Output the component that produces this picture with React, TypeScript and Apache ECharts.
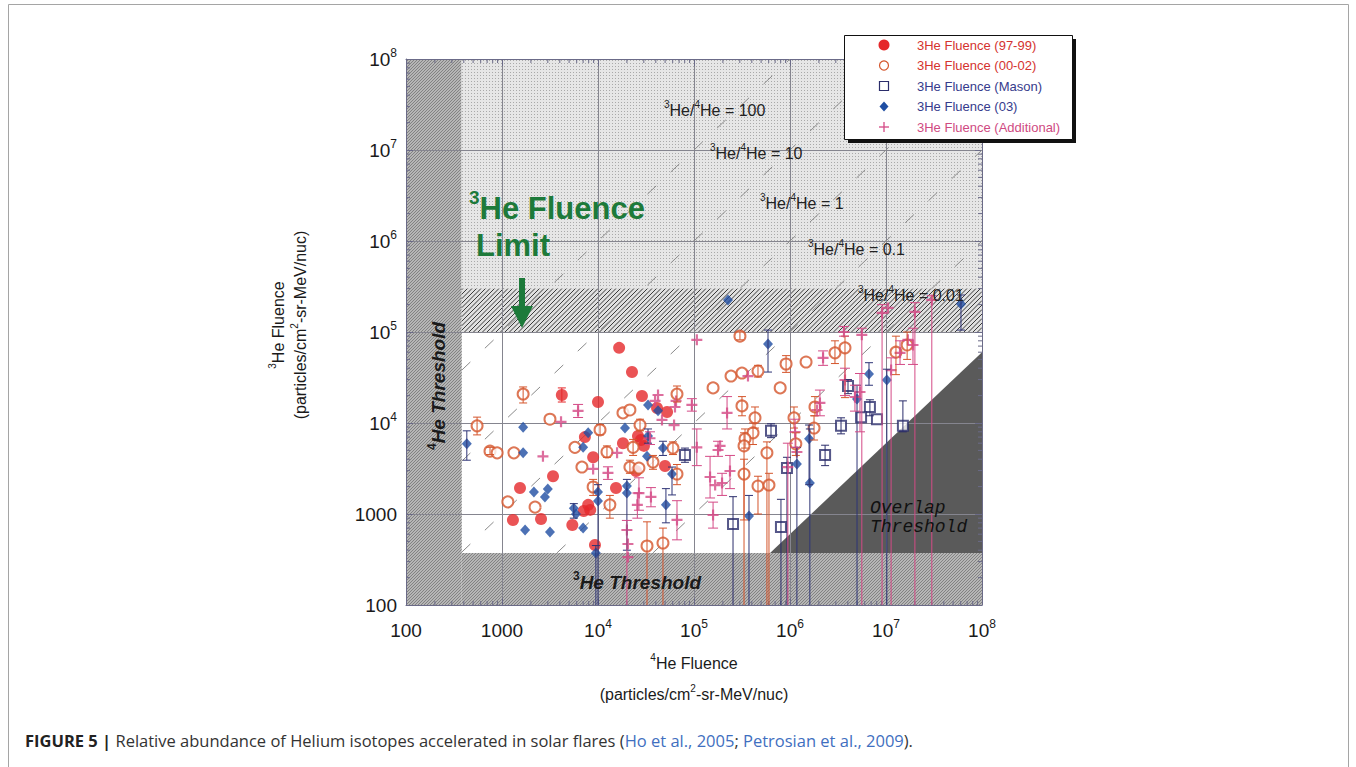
import React, { useEffect, useRef } from 'react';
import * as echarts from 'echarts';

const FONT = '"Liberation Sans", Arial, Helvetica, sans-serif';
const MONO = '"Liberation Mono", "DejaVu Sans Mono", monospace';
const CAPTION_FONT = '"Open Sans", "DejaVu Sans", sans-serif';

// [4He fluence, 3He fluence] — filled red circles
const fluence9799: number[][] = [
  [1.66e4, 6.7e4], [2.26e4, 3.63e4], [4.2e3, 2.03e4, 1.7e4, 2.43e4], [1.0e4, 1.7e4],
  [2.87e4, 1.98e4], [4.12e4, 1.46e4], [5.24e4, 1.32e4], [2.61e4, 7.2e3],
  [7.3e3, 7.0e3], [1.82e4, 6.0e3], [3.01e4, 5.6e3], [2.8e4, 6.5e3],
  [8.9e3, 4.2e3], [3.4e3, 2.6e3], [1.54e3, 1.93e3], [2.49e4, 2.97e3],
  [4.99e4, 3.37e3], [1.54e4, 1.93e3], [7.9e3, 1.26e3], [7.1e3, 1.08e3],
  [8.3e3, 1.11e3], [1.3e3, 860], [2.55e3, 880], [5.4e3, 757], [9.3e3, 456],
];

// [4He, 3He, 3He low, 3He high] — open circles
const fluence0002: number[][] = [
  [6.65e4, 2.08e4, 1.7e4, 2.55e4], [1.66e3, 2.08e4, 1.66e4, 2.49e4], [550, 9.3e3, 7.4e3, 1.16e4],
  [750, 4.9e3, 4.5e3, 5.4e3], [890, 4.7e3], [1.33e3, 4.7e3], [3.16e3, 1.1e4],
  [1.05e4, 8.4e3, 7.4e3, 9.6e3], [1.82e4, 1.29e4], [2.15e4, 1.39e4], [1.24e4, 4.8e3, 4.2e3, 5.6e3],
  [5.75e3, 5.4e3], [6.8e3, 3.28e3], [2.32e4, 5.4e3, 4.4e3, 6.6e3], [2.74e4, 9.5e3, 8.2e3, 1.1e4],
  [2.15e4, 3.28e3, 2.8e3, 3.9e3], [2.67e4, 3.2e3], [3.74e4, 3.72e3, 3.1e3, 4.4e3],
  [6.04e4, 5.3e3, 4.5e3, 6.2e3], [6.65e4, 2.75e3, 2.1e3, 3.5e3], [1.15e3, 1.36e3], [2.21e3, 1.19e3],
  [8.9e3, 1.98e3, 1.6e3, 2.4e3], [1.33e4, 1.26e3, 900, 1.6e3], [3.24e4, 445, 100, 820],
  [4.75e4, 480, 100, 700], [3.01e5, 9.0e4, 8.2e4, 1.0e5], [2.43e5, 3.28e4], [3.16e5, 3.54e4],
  [4.64e5, 3.72e4, 3.2e4, 4.3e4], [9.1e5, 4.45e4, 3.6e4, 5.5e4], [1.47e6, 4.68e4], [1.58e5, 2.43e4],
  [7.9e5, 2.43e4], [2.94e6, 5.9e4, 4.5e4, 8.0e4], [3.74e6, 6.7e4, 1.9e4, 9.0e4],
  [1.27e7, 6.0e4, 3.4e4, 9.0e4], [1.66e7, 7.2e4, 5.0e4, 1.0e5], [3.16e5, 1.54e4, 1.2e4, 1.95e4],
  [4.32e5, 1.14e4, 8.8e3, 1.5e4], [4.12e5, 7.8e3, 5.8e3, 1.0e4], [3.4e5, 6.7e3, 5.3e3, 8.6e3],
  [3.32e5, 5.6e3, 860, 7.8e3], [5.75e5, 4.7e3, 100, 6.2e3], [3.32e5, 2.75e3, 100, 4.0e3],
  [4.64e5, 2.03e3, 1.0e3, 2.6e3], [6.04e5, 2.08e3, 100, 2.8e3], [1.1e6, 1.14e4, 8.8e3, 1.5e4],
  [1.15e6, 5.9e3, 4.4e3, 7.8e3], [1.82e6, 1.5e4, 1.2e4, 1.95e4], [1.78e6, 8.8e3, 6.5e3, 1.2e4],
];

// open squares
const fluenceMason: number[][] = [
  [8.05e4, 4.45e3, 3.7e3, 5.3e3], [6.34e5, 8.2e3, 6.9e3, 9.8e3], [3.4e6, 9.3e3, 7.6e3, 1.14e4],
  [2.32e6, 4.45e3, 3.4e3, 5.7e3], [9.3e5, 3.2e3, 100, 4.2e3], [4.02e6, 2.55e4, 2.1e4, 3.0e4],
  [6.8e6, 1.5e4, 1.2e4, 1.8e4], [5.5e6, 1.16e4], [8.05e6, 1.1e4], [1.5e7, 9.3e3, 8.0e3, 1.75e4],
  [2.55e5, 776, 100, 1.55e3], [8.05e5, 720, 100, 1.45e3],
];

// filled diamonds
const fluence03: number[][] = [
  [3.32e4, 1.58e4], [4.22e4, 1.36e4], [7.9e3, 7.8e3], [1.91e4, 8.8e3],
  [3.32e4, 7.2e3, 6.0e3, 8.6e3], [7.0e3, 5.4e3], [4.75e4, 5.3e3, 4.4e3, 6.3e3], [3.24e4, 4.3e3],
  [1.66e3, 9.0e3], [1.66e3, 4.7e3], [430, 5.9e3, 3.9e3, 8.2e3], [5.9e4, 2.75e3, 1.62e3, 3.28e3],
  [2.15e3, 1.75e3], [3.0e3, 1.88e3], [2.8e3, 1.54e3], [1.0e4, 1.75e3, 100, 2.1e3],
  [1.0e4, 1.39e3], [2.0e4, 2.03e3, 400, 2.4e3], [2.0e4, 1.7e3], [5.6e3, 1.16e3, 900, 1.3e3],
  [5.9e3, 1.0e3], [1.74e3, 667], [3.16e3, 634], [7.0e3, 701], [9.5e3, 373, 100, 450],
  [5.1e4, 1.26e3, 800, 1.9e3], [5.9e5, 7.4e4, 3.63e4, 1.05e5], [6.65e6, 3.45e4, 2.6e4, 4.6e4],
  [1.02e7, 2.97e4, 100, 3.9e4], [4.99e6, 1.84e4, 100, 2.6e4], [1.58e6, 6.7e3, 2.1e3, 9.5e3],
  [1.18e6, 3.54e3, 100, 5.4e3], [1.61e6, 2.19e3, 100, 8.6e3], [3.74e5, 951, 100, 1.6e3],
  [2.26e5, 2.25e5], [6.04e7, 2.03e5, 1.05e5, 2.55e5],
];

// plus markers
const fluenceAdditional: number[][] = [
  [6.2e3, 1.36e4, 1.15e4, 1.6e4], [4.12e3, 1.03e4], [2.67e3, 4.3e3], [4.22e4, 2.03e4],
  [3.93e4, 1.75e4], [6.5e4, 1.75e4], [6.34e4, 1.5e4], [9.5e4, 1.58e4, 1.35e4, 1.85e4],
  [4.64e4, 1.08e4], [6.2e4, 9.5e3], [3.48e4, 6.8e3, 5.8e3, 8.0e3], [1.58e4, 4.7e3],
  [1.27e4, 2.83e3, 2.4e3, 3.3e3], [8.9e3, 3.13e3], [2.67e4, 1.7e3, 1.1e3, 2.5e3],
  [3.56e4, 1.54e3, 1.2e3, 1.95e3], [6.65e4, 860, 520, 1.4e3], [2.0e4, 667, 100, 850],
  [2.05e4, 468], [2.05e4, 336], [1.07e5, 8.2e4], [2.21e5, 1.29e4, 8.6e3, 1.95e4],
  [1.07e5, 5.4e3, 3.4e3, 8.6e3], [1.47e5, 2.55e3, 1.5e3, 4.3e3], [1.66e5, 2.08e3],
  [1.96e5, 2.19e3, 1.6e3, 2.8e3], [1.78e5, 5.05e3, 4.3e3, 6.3e3], [2.37e5, 2.97e3, 1.9e3, 4.4e3],
  [1.58e5, 975, 700, 1.35e3], [1.87e5, 5.6e3], [3.65e5, 3.28e4], [2.21e6, 5.2e4, 4.3e4, 6.2e4],
  [2.05e6, 1.66e4, 1.2e4, 2.3e4], [1.91e6, 1.39e4], [1.13e6, 7.96e3, 5.4e3, 1.1e4], [1.18e6, 4.8e3],
  [9.5e5, 3.28e3, 100, 6.0e3], [4.75e6, 1.93e4, 1.35e4, 2.6e4], [5.36e6, 2.19e4, 8.0e3, 3.5e4],
  [3.74e6, 2.97e4, 2.0e4, 4.0e4], [1.13e7, 3.82e4, 100, 5.2e4], [1.4e7, 5.9e4, 4.4e4, 8.0e4],
  [1.91e7, 7.2e4, 4.4e4, 1.1e5], [9.1e6, 1.62e5, 100, 2.0e5], [1.05e7, 1.84e5],
  [2.0e7, 1.66e5, 100, 2.1e5], [3.65e6, 1.0e5, 9.0e4, 1.15e5], [1.69e7, 8.2e4],
  [5.6e6, 9.3e4, 100, 1.1e5], [3.0e7, 2.25e5, 100, 2.5e5], [2.57e4, 1.26e3, 900, 1.7e3],
];

// constant 3He/4He ratio guide lines and their labels
const ratioValues = [100, 10, 1, 0.1, 0.01];
const ratioLabels = ['100', '10', '1', '0.1', '0.01'];

// detection limits
const he4Threshold = 380;
const he3Threshold = 373;
const fluenceLimit = 1e5;
const fluenceLimitTop = 3e5;
const overlapVertices = [[6.2e5, 373], [1e8, 6.0e4], [1e8, 373]];

const axisMin = 100;
const axisMax = 1e8;
const decadeExponents = [2, 3, 4, 5, 6, 7, 8];
const decadeLabels = ['100', '1000', '10{s|4}', '10{s|5}', '10{s|6}', '10{s|7}', '10{s|8}'];
const minorMultipliers = [2, 3, 4, 5, 6, 7, 8, 9];

const legendItems = [
  { label: '3He Fluence (97-99)', color: '#d4332f', marker: 'dot' },
  { label: '3He Fluence (00-02)', color: '#d4332f', marker: 'ring' },
  { label: '3He Fluence (Mason)', color: '#363b8c', marker: 'square' },
  { label: '3He Fluence (03)', color: '#363b8c', marker: 'diamond' },
  { label: '3He Fluence (Additional)', color: '#cf4a82', marker: 'plus' },
];

const C = {
  red: '#e5282a',
  orange: '#d4552c',
  navy: '#2b2d6b',
  blue: '#1f4ea3',
  blueBar: '#2e3476',
  pink: '#d44a86',
  axis: '#6b6b88',
  grid: '#85858f',
  green: '#1d7a3a',
  text: '#1a1a1a',
};

const PLUS_PATH = 'path://M0,4H10V6H0Z M4,0H6V10H4Z';

function hatchLines(x0: number, y0: number, w: number, h: number, step: number, stroke: string, lineWidth: number) {
  const out: any[] = [];
  const start = Math.ceil((x0 + y0) / step) * step;
  for (let c = start; c < x0 + w + y0 + h; c += step) {
    const xa = Math.max(x0, c - (y0 + h));
    const xb = Math.min(x0 + w, c - y0);
    if (xb <= xa) continue;
    out.push({
      type: 'line',
      silent: true,
      shape: { x1: xa, y1: c - xa, x2: xb, y2: c - xb },
      style: { stroke, lineWidth },
    });
  }
  return out;
}

function stippleCanvas() {
  const cv = document.createElement('canvas');
  cv.width = 3;
  cv.height = 3;
  const g = cv.getContext('2d');
  if (g) {
    g.fillStyle = '#e6e6e6';
    g.fillRect(0, 0, 3, 3);
    g.fillStyle = '#a9a9a9';
    g.fillRect(0, 0, 1, 1);
  }
  return cv;
}

function errorBars(data: number[][], color: string, cap: number) {
  const rows = data.filter((d) => d.length >= 4);
  return {
    type: 'custom',
    z: 4,
    silent: true,
    data: rows,
    encode: { x: 0, y: [1, 2, 3] },
    renderItem: (_params: any, api: any) => {
      const x = api.value(0);
      const lo = api.value(2);
      const hi = api.value(3);
      const top = api.coord([x, hi]);
      const bot = api.coord([x, lo]);
      const style = { stroke: color, lineWidth: 1 };
      const children: any[] = [
        { type: 'line', shape: { x1: top[0], y1: top[1], x2: bot[0], y2: bot[1] }, style },
        { type: 'line', shape: { x1: top[0] - cap, y1: top[1], x2: top[0] + cap, y2: top[1] }, style },
      ];
      if (lo > axisMin) {
        children.push({ type: 'line', shape: { x1: bot[0] - cap, y1: bot[1], x2: bot[0] + cap, y2: bot[1] }, style });
      }
      return { type: 'group', children };
    },
  };
}

const supRich = (size: number, lh: number, color: string) => ({
  s: { fontSize: size, lineHeight: lh, verticalAlign: 'top', fill: color, color, fontFamily: FONT },
});

function label(x: number, y: number, text: string, o: any = {}) {
  const size = o.fontSize ?? 17;
  const color = o.color ?? C.text;
  return {
    type: 'text',
    x,
    y,
    z: o.z ?? 100,
    silent: true,
    rotation: o.rotation ?? 0,
    style: {
      text,
      fill: color,
      fontFamily: o.fontFamily ?? FONT,
      fontSize: size,
      fontWeight: o.fontWeight ?? 'normal',
      fontStyle: o.fontStyle ?? 'normal',
      align: o.align ?? 'center',
      verticalAlign: o.verticalAlign ?? 'middle',
      lineHeight: o.lineHeight ?? Math.round(size * 1.3),
      rich: o.rich ?? supRich(Math.round(size * 0.62), Math.round(size * 0.5), color),
    },
  };
}

export default function App() {
  const ref = useRef<HTMLDivElement>(null);

  useEffect(() => {
    if (!ref.current) return;
    const chart = echarts.init(ref.current, null, { renderer: 'svg' });

    const regions = [
      { kind: 'band', x1: axisMin, y1: axisMin, x2: he4Threshold, y2: axisMax },
      { kind: 'band', x1: he4Threshold, y1: axisMin, x2: axisMax, y2: he3Threshold },
      { kind: 'stipple', x1: he4Threshold, y1: fluenceLimitTop, x2: axisMax, y2: axisMax },
      { kind: 'hatch', x1: he4Threshold, y1: fluenceLimit, x2: axisMax, y2: fluenceLimitTop },
    ];
    const stipple = stippleCanvas();

    const regionSeries = {
      type: 'custom',
      z: 0,
      silent: true,
      data: regions.map((r) => [r.x1, r.y1, r.x2, r.y2]),
      encode: { x: [0, 2], y: [1, 3] },
      renderItem: (params: any, api: any) => {
        const r = regions[params.dataIndex];
        const tl = api.coord([r.x1, r.y2]);
        const br = api.coord([r.x2, r.y1]);
        const x = tl[0];
        const y = tl[1];
        const w = br[0] - tl[0];
        const h = br[1] - tl[1];
        const children: any[] = [];
        if (r.kind === 'band') {
          children.push({ type: 'rect', shape: { x, y, width: w, height: h }, style: { fill: '#b6b6b6' } });
          children.push(...hatchLines(x, y, w, h, 3, '#828282', 1));
        } else if (r.kind === 'stipple') {
          children.push({ type: 'rect', shape: { x, y, width: w, height: h }, style: { fill: '#e2e2e2' } });
          children.push({
            type: 'rect',
            shape: { x, y, width: w, height: h },
            style: { fill: { image: stipple, repeat: 'repeat', imageWidth: 3, imageHeight: 3 } },
          });
        } else {
          children.push({ type: 'rect', shape: { x, y, width: w, height: h }, style: { fill: '#e0e0e0' } });
          children.push(...hatchLines(x, y, w, h, 4.5, '#3a3a3a', 1));
        }
        return { type: 'group', children };
      },
    };

    const overlapSeries = {
      type: 'custom',
      z: 0.5,
      silent: true,
      data: [overlapVertices[0]],
      encode: { x: 0, y: 1 },
      renderItem: (_p: any, api: any) => ({
        type: 'polygon',
        shape: { points: overlapVertices.map((v) => api.coord(v)) },
        style: { fill: '#5a5a5a' },
      }),
    };

    // minor log ticks on all four edges of the frame
    const minorValues: number[] = [];
    decadeExponents.slice(0, -1).forEach((e) => minorMultipliers.forEach((m) => minorValues.push(m * Math.pow(10, e))));
    const minorTickSeries = {
      type: 'custom',
      z: 1.2,
      silent: true,
      data: [[axisMin, axisMin]],
      encode: { x: 0, y: 1 },
      renderItem: (_p: any, api: any) => {
        const lo = api.coord([axisMin, axisMin]);
        const hi = api.coord([axisMax, axisMax]);
        const style = { stroke: C.axis, lineWidth: 1 };
        const len = 4;
        const children: any[] = [];
        minorValues.forEach((v) => {
          const px = api.coord([v, axisMin])[0];
          const py = api.coord([axisMin, v])[1];
          children.push({ type: 'line', shape: { x1: px, y1: lo[1], x2: px, y2: lo[1] - len }, style });
          children.push({ type: 'line', shape: { x1: px, y1: hi[1], x2: px, y2: hi[1] + len }, style });
          children.push({ type: 'line', shape: { x1: lo[0], y1: py, x2: lo[0] + len, y2: py }, style });
          children.push({ type: 'line', shape: { x1: hi[0], y1: py, x2: hi[0] - len, y2: py }, style });
        });
        return { type: 'group', children };
      },
    };

    const ratioSeries = ratioValues.map((r) => {
      const xs = Math.max(he4Threshold, he3Threshold / r);
      const xe = Math.min(axisMax, axisMax / r);
      return {
        type: 'line',
        z: 1.5,
        silent: true,
        symbol: 'none',
        data: [[xs, r * xs], [xe, r * xe]],
        lineStyle: { color: '#8a8a8a', width: 1, type: [12, 20] },
      };
    });

    const scatterBase = { type: 'scatter', z: 3, silent: true, encode: { x: 0, y: 1 } };

    const axisLabel = {
      fontSize: 19,
      lineHeight: 24,
      color: C.text,
      fontFamily: FONT,
      formatter: (v: number) => decadeLabels[decadeExponents.indexOf(Math.round(Math.log10(v)))] ?? '',
      rich: { s: { fontSize: 12, lineHeight: 10, verticalAlign: 'top', color: C.text, fontFamily: FONT } },
    };

    const logAxis = (pos: string, main: boolean) => ({
      type: 'log',
      logBase: 10,
      min: axisMin,
      max: axisMax,
      splitNumber: 6,
      position: pos,
      z: 1,
      axisLine: { show: true, onZero: false, lineStyle: { color: C.axis, width: 1 } },
      axisTick: { show: true, inside: true, length: 7, lineStyle: { color: C.axis } },
      splitLine: { show: main, lineStyle: { color: C.grid, width: 1 } },
      axisLabel: main ? { ...axisLabel, margin: pos === 'bottom' ? 13 : 9 } : { show: false },
    });

    const legendGraphics: any[] = [
      { type: 'rect', z: 110, silent: true, shape: { x: 848, y: 39, width: 228, height: 104 }, style: { fill: '#111' } },
      { type: 'rect', z: 111, silent: true, shape: { x: 844.5, y: 35.5, width: 228, height: 104 }, style: { fill: '#fff', stroke: '#111', lineWidth: 1 } },
    ];
    legendItems.forEach((it, i) => {
      const cy = 45 + i * 20.5;
      const cx = 884;
      const mz = { z: 112, silent: true };
      if (it.marker === 'dot') legendGraphics.push({ ...mz, type: 'circle', shape: { cx, cy, r: 5.5 }, style: { fill: C.red } });
      else if (it.marker === 'ring') legendGraphics.push({ ...mz, type: 'circle', shape: { cx, cy, r: 4.5 }, style: { fill: '#fff', stroke: C.orange, lineWidth: 1.2 } });
      else if (it.marker === 'square') legendGraphics.push({ ...mz, type: 'rect', shape: { x: cx - 4.5, y: cy - 4.5, width: 9, height: 9 }, style: { fill: '#fff', stroke: C.navy, lineWidth: 1.2 } });
      else if (it.marker === 'diamond') legendGraphics.push({ ...mz, type: 'polygon', shape: { points: [[cx, cy - 5], [cx + 4.5, cy], [cx, cy + 5], [cx - 4.5, cy]] }, style: { fill: C.blue } });
      else {
        legendGraphics.push({ ...mz, type: 'line', shape: { x1: cx - 5, y1: cy, x2: cx + 5, y2: cy }, style: { stroke: C.pink, lineWidth: 1.3 } });
        legendGraphics.push({ ...mz, type: 'line', shape: { x1: cx, y1: cy - 5, x2: cx, y2: cy + 5 }, style: { stroke: C.pink, lineWidth: 1.3 } });
      }
      legendGraphics.push(label(917, cy, it.label, { fontSize: 13, color: it.color, align: 'left', z: 113 }));
    });

    const ratioPos = [
      [664, 110], [710, 153], [760, 203], [808, 249], [858, 295],
    ];
    const ratioTexts = ratioLabels.map((t, i) =>
      label(ratioPos[i][0], ratioPos[i][1], `{s|3}He/{s|4}He = ${t}`, { fontSize: 16, align: 'left', color: '#222' })
    );

    const boldSup = (size: number, color: string) => ({
      s: { fontSize: size, lineHeight: 9, verticalAlign: 'top', fill: color, fontWeight: 'bold', fontFamily: FONT },
    });

    const option: any = {
      animation: false,
      backgroundColor: '#ffffff',
      grid: { left: 406, top: 59, width: 576, height: 546 },
      xAxis: [logAxis('bottom', true), logAxis('top', false)],
      yAxis: [logAxis('left', true), logAxis('right', false)],
      series: [
        regionSeries,
        overlapSeries,
        minorTickSeries,
        ...ratioSeries,
        { ...scatterBase, name: '3He Fluence (97-99)', data: fluence9799, symbol: 'circle', symbolSize: 12, itemStyle: { color: C.red } },
        { ...scatterBase, name: '3He Fluence (00-02)', data: fluence0002, symbol: 'emptyCircle', symbolSize: 11, itemStyle: { color: C.orange, borderColor: C.orange, borderWidth: 1.2 } },
        { ...scatterBase, name: '3He Fluence (Mason)', data: fluenceMason, symbol: 'emptyRect', symbolSize: 10, itemStyle: { color: C.navy, borderColor: C.navy, borderWidth: 1.2 } },
        { ...scatterBase, name: '3He Fluence (03)', data: fluence03, symbol: 'diamond', symbolSize: [10, 11], itemStyle: { color: C.blue } },
        { ...scatterBase, name: '3He Fluence (Additional)', data: fluenceAdditional, symbol: PLUS_PATH, symbolSize: 11, itemStyle: { color: C.pink } },
        errorBars(fluence9799, C.red, 4),
        errorBars(fluence0002, C.orange, 4),
        errorBars(fluenceMason, C.navy, 4),
        errorBars(fluence03, C.blueBar, 4),
        errorBars(fluenceAdditional, C.pink, 5),
      ],
      graphic: [
        { type: 'rect', z: -10, silent: true, shape: { x: 8.5, y: 4.5, width: 1340, height: 780 }, style: { fill: 'none', stroke: '#a5a5a5', lineWidth: 1 } },
        ...ratioTexts,
        label(469, 208, '{s|3}He Fluence', {
          fontSize: 31, fontWeight: 'bold', color: C.green, align: 'left',
          rich: { s: { fontSize: 19, lineHeight: 14, verticalAlign: 'top', fill: C.green, fontWeight: 'bold', fontFamily: FONT } },
        }),
        label(476, 245, 'Limit', { fontSize: 31, fontWeight: 'bold', color: C.green, align: 'left' }),
        {
          type: 'polygon', z: 100, silent: true,
          shape: { points: [[519, 278], [525, 278], [525, 306], [533, 306], [522, 328], [511, 306], [519, 306]] },
          style: { fill: C.green },
        },
        label(438, 386, '{s|4}He Threshold', {
          fontSize: 19, fontWeight: 'bold', fontStyle: 'italic', rotation: Math.PI / 2, rich: boldSup(12, C.text),
        }),
        label(637, 582, '{s|3}He Threshold', {
          fontSize: 19, fontWeight: 'bold', fontStyle: 'italic', rich: boldSup(12, C.text),
        }),
        label(870, 508, 'Overlap', { fontSize: 18, fontFamily: MONO, fontStyle: 'italic', align: 'left', color: '#111' }),
        label(870, 527, 'Threshold', { fontSize: 18, fontFamily: MONO, fontStyle: 'italic', align: 'left', color: '#111' }),
        label(278, 325, '{s|3}He Fluence', { fontSize: 16, rotation: Math.PI / 2 }),
        label(300, 325, '(particles/cm{s|2}-sr-MeV/nuc)', { fontSize: 16, rotation: Math.PI / 2 }),
        label(694, 663, '{s|4}He Fluence', { fontSize: 16 }),
        label(694, 694, '(particles/cm{s|2}-sr-MeV/nuc)', { fontSize: 16 }),
        ...legendGraphics,
        label(25, 740, '{b|FIGURE 5 |} Relative abundance of Helium isotopes accelerated in solar flares ({a|Ho et al., 2005}; {a|Petrosian et al., 2009}).', {
          fontSize: 16.5, align: 'left', color: '#333', fontFamily: CAPTION_FONT,
          rich: {
            b: { fontSize: 16.5, fontWeight: 'bold', fill: '#222', fontFamily: CAPTION_FONT },
            a: { fontSize: 16.5, fill: '#3f6fc0', fontFamily: CAPTION_FONT },
          },
        }),
      ],
    };

    chart.setOption(option);
    return () => chart.dispose();
  }, []);

  return (
    <div
      ref={ref}
      style={{ position: 'fixed', left: 0, top: 0, width: 1356, height: 767, background: '#fff' }}
    />
  );
}
